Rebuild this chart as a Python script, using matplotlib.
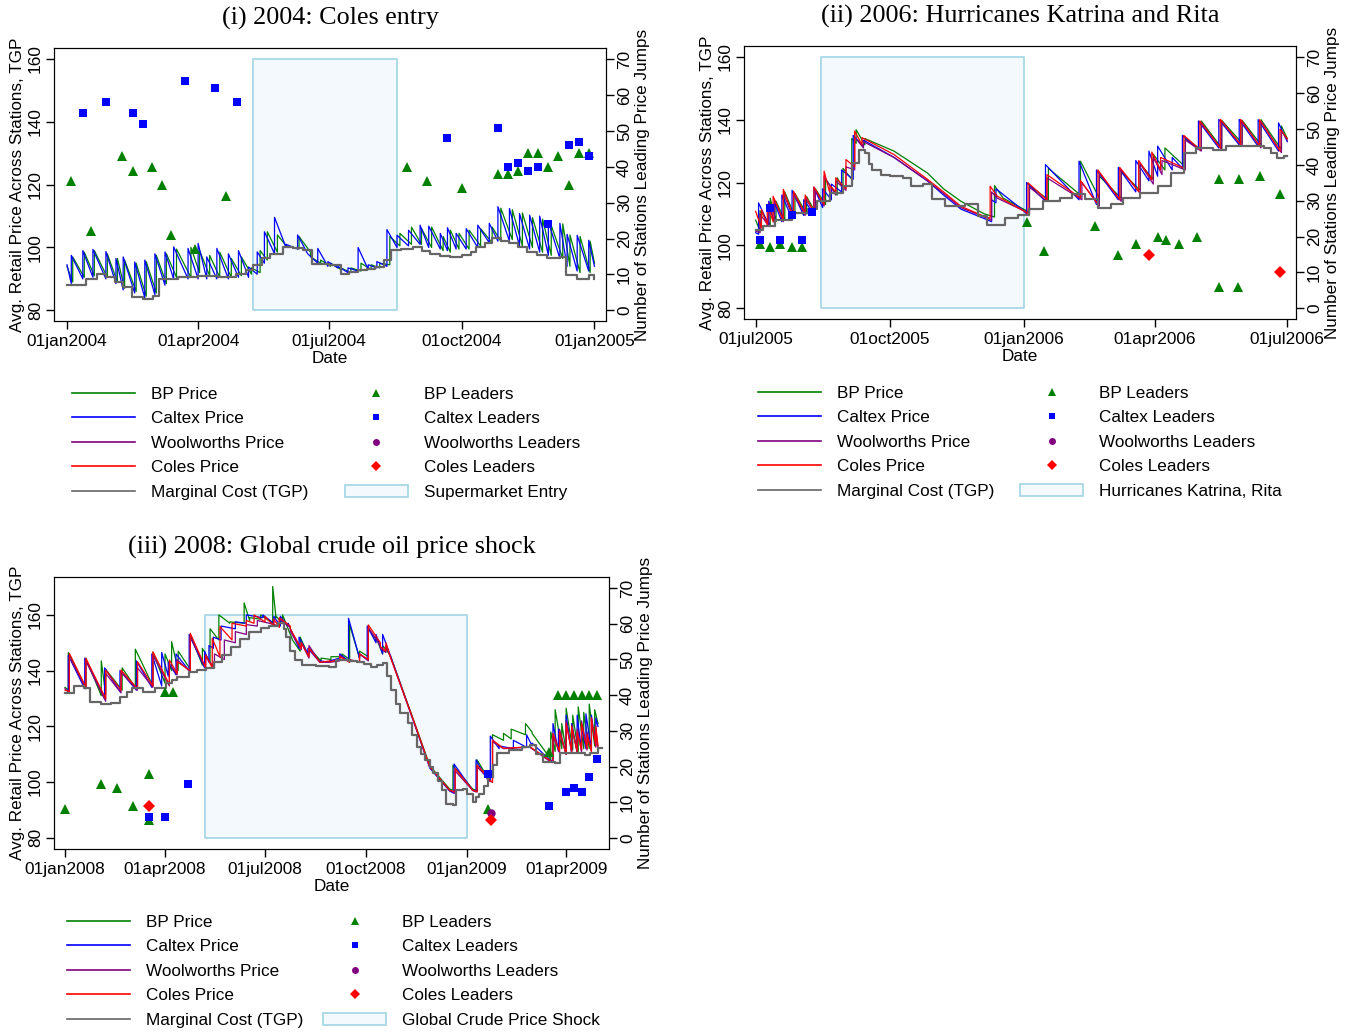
import numpy as np
import matplotlib
matplotlib.use("Agg")
import matplotlib.pyplot as plt
import matplotlib.dates as mdates
from matplotlib.lines import Line2D
from matplotlib.patches import Patch

plt.rcParams['font.family'] = ['Liberation Sans', 'DejaVu Sans']

# ---------------- data: (day offset, peak after jump, value before next jump) ----------------
# panel (i) 2004, base 01jan2004
caltex_04 = [(0, 94.5, 88.5), (3, 97.5, 90.0), (11, 99.0, 90.5), (18, 99.4, 90.0), (27, 98.7, 88.5),
             (34, 96.5, 86.5), (39, 97.0, 85.5), (47, 95.4, 84.0), (54, 96.0, 85.0), (61, 98.0, 88.0),
             (68, 98.6, 90.0), (74, 100.2, 90.0), (84, 99.7, 90.0), (91, 101.3, 90.0), (97, 97.0, 90.0),
             (104, 99.7, 90.0), (112, 98.0, 90.5), (119, 99.0, 90.5), (126, 93.8, 91.5), (132, 98.6, 95.0),
             (137, 105.0, 98.0), (144, 109.6, 100.0), (152, 101.0, 99.5), (160, 104.0, 98.0), (167, 98.0, 95.0),
             (174, 99.7, 94.0), (181, 95.5, 93.5), (188, 94.0, 92.0), (195, 93.5, 92.5), (202, 100.0, 93.0),
             (209, 94.5, 93.5), (215, 95.5, 94.0), (222, 105.7, 100.0), (229, 103.9, 100.5), (237, 105.5, 101.0),
             (245, 107.1, 100.0), (251, 106.8, 99.5), (259, 104.5, 99.0), (264, 106.3, 99.5), (270, 104.5, 99.5),
             (277, 106.0, 100.0), (285, 107.1, 101.5), (293, 107.7, 102.0), (299, 113.0, 102.0), (307, 112.4, 100.5),
             (314, 110.8, 99.5), (321, 110.3, 98.5), (328, 110.0, 97.5), (334, 108.2, 96.5), (342, 107.7, 94.0),
             (347, 104.2, 92.5), (354, 103.9, 92.5), (362, 102.3, 94.0)]
bp_04 = [(0, 94.0, 89.0), (4, 97.0, 90.5), (12, 98.5, 91.0), (19, 99.0, 90.5), (28, 98.0, 89.0),
         (35, 96.5, 87.0), (40, 96.0, 86.0), (48, 95.0, 84.5), (55, 95.5, 85.5), (62, 97.5, 88.5),
         (69, 98.0, 90.5), (76, 99.5, 90.5), (86, 100.0, 92.0), (92, 99.0, 91.0), (99, 97.5, 90.5),
         (106, 98.5, 90.5), (114, 96.5, 91.0), (121, 97.0, 91.5), (128, 93.5, 92.0), (134, 99.0, 96.0),
         (139, 105.0, 98.5), (146, 104.0, 100.0), (153, 100.5, 99.5), (161, 103.5, 98.5), (169, 97.0, 95.0),
         (176, 96.0, 94.0), (183, 95.0, 93.0), (190, 93.5, 92.0), (197, 93.5, 92.5), (204, 95.0, 93.0),
         (211, 94.5, 93.5), (217, 95.0, 94.5), (224, 103.5, 100.5), (231, 104.5, 101.0), (239, 106.5, 101.0),
         (246, 106.0, 100.0), (253, 106.5, 99.0), (261, 103.5, 98.5), (266, 105.5, 99.5), (272, 104.5, 99.5),
         (279, 105.5, 100.5), (287, 106.0, 101.5), (295, 106.5, 102.0), (301, 112.5, 102.5), (309, 112.0, 100.5),
         (316, 111.0, 100.0), (323, 109.5, 98.5), (330, 109.0, 97.5), (336, 107.0, 96.5), (344, 107.5, 94.0),
         (349, 104.0, 92.0), (356, 103.5, 92.0), (363, 102.0, 95.0)]
tgp_04 = [(0, 88), (11, 88), (13, 90), (21, 91.7), (27, 90.6), (33, 89), (39, 87.4), (45, 84.3), (53, 83.7),
          (60, 84.5), (64, 90), (77, 90.6), (91, 90.9), (105, 90.6), (117, 91.5), (124, 92.8), (129, 94.5),
          (135, 96.5), (141, 98), (150, 100.2), (157, 99.8), (164, 99.1), (170, 94.9), (176, 94.6), (182, 94.4),
          (190, 91.7), (196, 92.3), (202, 92.8), (208, 93.3), (214, 93.8), (220, 96), (225, 99.1), (232, 99.6),
          (240, 100.2), (246, 99), (252, 98), (259, 97.3), (266, 97), (274, 97.6), (280, 98.5), (284, 100.2),
          (290, 101.5), (295, 102.9), (301, 102.2), (307, 101.3), (313, 100), (319, 98.6), (326, 97.5),
          (333, 96.5), (342, 97), (346, 91.2), (354, 90.1), (362, 91.2), (366, 90.1)]
bp_lead_04 = [(3, 36), (17, 22), (38, 43), (46, 39), (59, 40), (66, 35), (72, 21), (89, 17), (110, 32),
              (236, 40), (250, 36), (274, 34), (299, 38), (306, 38), (313, 39), (320, 44), (327, 44),
              (334, 40), (341, 43), (348, 35), (355, 44), (362, 44)]
caltex_lead_04 = [(11, 55), (27, 58), (46, 55), (53, 52), (82, 64), (103, 62), (118, 58), (264, 48),
                  (299, 51), (306, 40), (313, 41), (320, 39), (327, 40), (334, 24), (348, 46), (355, 47), (362, 43)]

# panel (ii) 2006, base 01jul2005
coles_06 = [(0, 110.8, 105.5), (4, 111.4, 106.5), (8, 113.0, 107.5), (12, 115.6, 108.0), (19, 117.8, 109.0),
            (26, 117.2, 110.0), (34, 116.0, 110.5), (40, 118.6, 113.0), (47, 123.6, 116.5), (51, 119.0, 117.0),
            (55, 121.5, 118.0), (62, 127.3, 125.0), (68, 136.4, 132.0), (73, 134.3, 128.9), (95, 128.9, 121.0),
            (118, 121.0, 117.0), (129, 117.0, 112.4), (141, 112.4, 109.2), (157, 109.2, 108.6), (161, 118.8, 115.6),
            (166, 115.6, 111.0), (184, 111.0, 110.0), (187, 119.9, 114.5), (200, 122.5, 115.1), (223, 120.6, 113.0),
            (235, 124.0, 114.5), (250, 124.8, 117.2), (263, 127.0, 120.9), (272, 129.7, 124.0), (278, 128.0, 124.6),
            (294, 135.0, 130.5), (305, 139.6, 131.0), (319, 140.1, 132.1), (333, 140.1, 131.6), (346, 140.0, 130.0),
            (360, 137.0, 134.0)]
caltex_06 = [(0, 104.0, 103.5), (2, 113.5, 106.5), (9, 114.0, 107.0), (13, 113.5, 107.5), (18, 116.0, 108.5),
             (25, 117.5, 109.5), (33, 114.5, 110.0), (40, 118.5, 112.0), (46, 118.0, 114.5), (52, 119.5, 117.0),
             (59, 124.0, 121.0), (67, 135.0, 131.5), (74, 133.5, 128.0), (95, 128.0, 120.5), (118, 120.5, 116.0),
             (129, 116.0, 111.5), (141, 111.5, 108.5), (157, 108.5, 107.5), (162, 114.5, 113.5), (165, 118.0, 111.0),
             (184, 111.0, 110.0), (186, 120.0, 114.0), (199, 125.7, 114.5), (222, 126.8, 113.0), (234, 124.0, 114.5),
             (249, 124.8, 117.0), (261, 127.0, 120.5), (270, 130.0, 122.0), (276, 131.6, 124.0), (286, 128.0, 124.5),
             (293, 135.0, 130.5), (304, 139.6, 131.0), (318, 140.1, 132.0), (332, 140.1, 131.5), (345, 140.0, 130.0),
             (359, 139.0, 133.0)]
bp_06 = [(0, 108.0, 104.5), (3, 111.0, 106.5), (10, 115.0, 107.5), (14, 114.0, 108.0), (20, 117.0, 109.0),
         (27, 116.5, 110.0), (35, 115.5, 110.5), (41, 118.0, 113.0), (48, 121.0, 116.0), (56, 121.5, 118.0),
         (60, 124.5, 121.0), (66, 134.0, 132.5), (69, 136.8, 132.0), (75, 134.0, 130.0), (95, 130.0, 123.0),
         (118, 123.0, 118.0), (129, 118.0, 114.0), (141, 114.0, 110.0), (157, 110.0, 109.0), (164, 119.0, 115.0),
         (170, 115.0, 111.5), (184, 111.5, 110.5), (188, 119.0, 114.5), (201, 124.5, 116.0), (223, 126.8, 115.0),
         (236, 122.0, 115.0), (251, 123.5, 117.5), (264, 126.0, 121.0), (273, 129.0, 124.0), (281, 131.0, 125.0),
         (295, 134.0, 130.5), (306, 139.6, 131.0), (320, 139.8, 132.5), (334, 139.8, 132.0), (347, 140.0, 130.5),
         (361, 138.0, 134.0)]
woolies_06 = [(0, 104.5, 104.0), (3, 110.0, 106.0), (9, 113.5, 107.0), (13, 114.5, 107.5), (19, 116.5, 108.5),
              (26, 116.5, 109.5), (34, 115.0, 110.0), (41, 117.5, 112.5), (47, 122.0, 116.0), (55, 120.5, 117.5),
              (62, 125.0, 124.0), (68, 134.5, 131.0), (74, 133.0, 128.0), (95, 128.0, 120.5), (118, 120.5, 116.5),
              (129, 116.5, 112.0), (141, 112.0, 109.0), (157, 109.0, 108.0), (162, 117.0, 115.0), (166, 115.0, 111.0),
              (184, 111.0, 110.0), (188, 118.5, 114.0), (200, 121.5, 114.5), (224, 120.0, 112.5), (236, 123.0, 114.0),
              (251, 124.0, 116.5), (264, 126.0, 119.5), (273, 128.0, 122.5), (279, 127.0, 124.0), (295, 133.5, 130.0),
              (306, 139.0, 130.5), (320, 139.5, 131.5), (334, 139.5, 131.0), (347, 139.5, 129.5), (361, 136.5, 133.5)]
tgp_06 = [(0, 105), (5, 106), (13, 108.2), (25, 110.3), (36, 111.4), (42, 114), (51, 116.7), (60, 118.8),
          (66, 126.3), (71, 130.5), (75, 129.5), (78, 126), (80, 124.1), (86, 122.5), (92, 122), (101, 121.5),
          (107, 118.8), (115, 119.4), (121, 114.6), (130, 112.4), (144, 113), (153, 109.3), (159, 106.6),
          (171, 108.7), (180, 109.8), (188, 111.4), (197, 114), (209, 115.1), (217, 116.2), (226, 114.6),
          (235, 111.9), (244, 113), (252, 115.1), (264, 116.7), (276, 118.8), (285, 123), (294, 129.5),
          (302, 131.1), (314, 130.5), (323, 131.6), (334, 131.6), (349, 131.1), (354, 129.5), (358, 127.9),
          (363, 128.6), (365, 128.6)]
bp_lead_06 = [(3, 18), (10, 17), (17, 18), (25, 17), (32, 17), (186, 24), (198, 16), (233, 23), (249, 15),
              (261, 18), (276, 20), (282, 19), (291, 18), (303, 20), (318, 6), (331, 6), (318, 36), (332, 36),
              (346, 37), (360, 32)]
caltex_lead_06 = [(3, 19), (10, 28), (17, 19), (25, 26), (32, 19), (39, 27)]
coles_lead_06 = [(270, 15), (360, 10)]

# panel (iii) 2008, base 01jan2008
coles_08 = [(0, 133.0, 132.5), (4, 146.2, 134.0), (19, 144.4, 130.0), (37, 140.2, 133.0), (51, 140.2, 133.5),
            (66, 143.2, 134.5), (80, 146.8, 135.0), (95, 143.8, 139.0), (102, 143.2, 140.0), (114, 153.4, 141.0),
            (128, 145.6, 141.0), (134, 151.6, 145.0), (141, 155.8, 151.0), (152, 157.0, 156.0), (165, 158.0, 157.0),
            (172, 160.0, 157.5), (182, 159.5, 156.0), (190, 158.5, 155.5), (195, 159.0, 156.0), (205, 155.0, 148.0),
            (215, 150.0, 145.0), (222, 148.0, 143.0), (232, 143.0, 143.5), (241, 143.2, 144.0), (250, 145.0, 143.0),
            (259, 143.8, 143.0), (268, 146.0, 144.0), (276, 156.4, 150.0), (287, 148.6, 147.0), (292, 150.0, 145.0),
            (296, 145.0, 122.3), (317, 122.3, 105.5), (332, 105.5, 97.1), (350, 97.1, 96.5), (355, 104.9, 97.1),
            (371, 97.1, 96.5), (375, 106.1, 103.5), (381, 104.0, 101.0), (385, 101.0, 100.0), (389, 115.1, 112.1),
            (399, 112.1, 112.7), (423, 112.7, 107.9), (441, 107.9, 107.0), (444, 117.5, 111.0), (450, 118.0, 110.0),
            (456, 121.1, 111.0), (461, 120.0, 111.0), (466, 118.0, 111.5), (470, 121.0, 112.0), (475, 117.0, 111.0),
            (479, 123.0, 113.0), (483, 120.0, 113.0)]
caltex_08 = [(0, 132.0, 132.0), (3, 145.5, 133.5), (18, 144.5, 130.0), (36, 141.0, 132.5), (50, 140.0, 133.0),
             (65, 143.5, 134.0), (79, 146.0, 134.5), (88, 146.5, 138.0), (94, 143.0, 138.5), (101, 146.0, 140.0),
             (113, 153.0, 141.0), (127, 147.0, 143.0), (131, 149.0, 148.0), (135, 152.0, 151.0), (142, 156.0, 155.0),
             (155, 157.5, 157.0), (165, 160.0, 159.0), (180, 160.0, 157.0), (190, 159.5, 156.0), (196, 159.5, 156.0),
             (203, 157.0, 148.0), (213, 152.0, 146.0), (221, 148.0, 143.0), (232, 143.5, 143.0), (241, 143.5, 144.5),
             (250, 146.0, 143.5), (258, 158.8, 144.5), (268, 146.0, 144.0), (275, 156.0, 150.0), (283, 153.0, 146.0),
             (289, 153.0, 145.5), (296, 145.5, 122.0), (317, 122.0, 105.0), (332, 105.0, 96.8), (350, 96.8, 96.0),
             (354, 106.5, 97.0), (371, 97.0, 96.5), (374, 108.0, 103.0), (381, 104.0, 101.0), (385, 101.0, 100.5),
             (387, 116.5, 112.0), (395, 113.0, 112.0), (408, 115.0, 112.5), (420, 117.0, 113.0), (425, 114.0, 108.0),
             (441, 108.0, 107.5), (444, 121.0, 111.0), (449, 119.0, 110.0), (456, 124.0, 110.5), (461, 121.0, 111.0),
             (466, 124.0, 111.0), (470, 120.0, 112.0), (474, 124.5, 111.5), (479, 124.0, 113.0), (483, 123.0, 120.0)]
bp_08 = [(0, 134.0, 133.0), (3, 146.5, 134.0), (19, 144.5, 131.0), (33, 143.5, 131.5), (37, 140.5, 133.0),
         (52, 141.0, 134.0), (64, 147.7, 134.5), (80, 146.5, 135.5), (91, 146.0, 140.0), (97, 150.4, 140.0),
         (103, 147.0, 140.5), (114, 153.0, 142.0), (125, 148.0, 143.0), (132, 155.0, 151.0), (140, 160.0, 157.0),
         (150, 157.5, 157.0), (163, 164.3, 158.0), (168, 159.0, 158.5), (178, 160.0, 157.0), (189, 170.2, 159.0),
         (192, 159.5, 157.0), (198, 160.0, 151.0), (207, 151.0, 147.0), (214, 152.0, 145.0), (222, 148.0, 143.5),
         (233, 144.5, 144.0), (242, 145.0, 145.0), (252, 146.0, 144.0), (259, 156.5, 144.5), (268, 147.0, 145.0),
         (276, 155.0, 150.0), (285, 150.0, 146.0), (289, 149.0, 145.5), (296, 145.5, 122.5), (317, 122.5, 105.8),
         (332, 105.8, 97.5), (350, 97.5, 97.0), (353, 106.0, 97.5), (371, 97.5, 97.0), (375, 108.0, 104.0),
         (381, 103.0, 101.0), (386, 104.0, 103.0), (389, 117.0, 115.0), (399, 117.5, 115.5), (406, 119.0, 117.0),
         (419, 121.0, 118.0), (425, 117.5, 111.0), (437, 111.0, 108.0), (442, 118.0, 111.0), (446, 126.0, 112.0),
         (452, 121.0, 111.0), (456, 126.5, 111.5), (462, 124.0, 111.0), (467, 127.0, 112.0), (472, 125.0, 112.0),
         (477, 128.0, 113.0), (482, 126.0, 121.0)]
woolies_08 = [(0, 133.5, 132.0), (4, 145.0, 133.5), (19, 143.5, 129.0), (37, 139.0, 132.0), (51, 139.5, 133.0),
              (66, 141.0, 134.0), (80, 145.5, 134.5), (95, 142.5, 138.5), (102, 144.0, 139.5), (114, 152.0, 141.0),
              (128, 145.0, 141.0), (136, 146.0, 144.0), (145, 151.0, 150.0), (155, 154.0, 153.0), (165, 156.5, 156.0),
              (175, 158.0, 157.0), (186, 157.0, 156.0), (195, 158.5, 155.5), (205, 154.0, 147.5), (215, 150.0, 144.5),
              (222, 149.0, 143.0), (232, 143.0, 143.0), (241, 143.0, 143.5), (250, 145.5, 143.0), (259, 144.0, 143.0),
              (268, 146.0, 143.5), (276, 155.5, 149.0), (287, 148.0, 146.5), (292, 149.0, 145.0), (296, 145.0, 122.0),
              (317, 122.0, 105.3), (332, 105.3, 97.0), (350, 97.0, 96.0), (355, 104.0, 97.0), (371, 97.0, 96.5),
              (375, 105.5, 103.0), (381, 103.5, 100.5), (385, 100.5, 100.0), (389, 114.5, 112.0), (399, 112.0, 112.5),
              (423, 112.5, 107.5), (441, 107.5, 107.0), (444, 116.5, 110.5), (450, 119.0, 110.0), (456, 122.0, 110.5),
              (461, 120.5, 110.5), (466, 119.0, 111.0), (470, 122.0, 111.5), (475, 118.0, 111.0), (479, 123.0, 112.5),
              (483, 119.0, 112.0)]
tgp_08 = [(0, 131.9), (8, 134.5), (17, 133.7), (23, 128.9), (33, 127.9), (42, 128.5), (50, 130.7), (56, 132.5),
          (61, 133.7), (71, 132.5), (82, 133.7), (92, 135.4), (97, 136.5), (102, 137.8), (113, 139.6), (120, 140.3),
          (128, 140.8), (136, 143.2), (143, 145.5), (151, 148.6), (159, 151.5), (167, 154), (178, 155.2), (186, 156),
          (194, 157), (199, 155), (201, 152.2), (205, 147), (209, 143.8), (216, 142), (228, 141.7), (240, 141.4),
          (247, 143.8), (258, 143.5), (266, 143.2), (272, 142.5), (278, 141.4), (284, 142), (289, 142.6), (293, 138),
          (297, 133), (301, 128), (305, 124.7), (312, 121.1), (316, 117), (320, 112.7), (324, 110), (328, 107.9),
          (332, 105.5), (335, 103.1), (339, 100.5), (343, 97.1), (347, 92.3), (353, 91.7), (356, 97.1), (362, 97.7),
          (366, 95.9), (371, 92.9), (374, 94.5), (377, 95.9), (381, 98.5), (385, 101.9), (389, 106), (393, 110.3),
          (404, 111.5), (416, 112.7), (423, 113.3), (429, 110), (435, 107.3), (446, 106.7), (450, 110.3),
          (462, 110.3), (473, 109.7), (478, 110.5), (485, 112.1), (489, 112.1)]
bp_lead_08 = [(0, 8), (33, 15), (47, 14), (62, 9), (76, 18), (76, 5), (91, 41), (98, 41), (385, 8), (440, 24),
              (449, 40), (456, 40), (463, 40), (470, 40), (477, 40), (484, 40)]
caltex_lead_08 = [(76, 6), (91, 6), (112, 15), (385, 18), (440, 9), (456, 13), (463, 14), (470, 13), (477, 17), (484, 22)]
woolies_lead_08 = [(388, 7)]
coles_lead_08 = [(76, 9), (388, 5)]

# ---------------- figure ----------------
C_BP, C_CX, C_WW, C_CO, C_MC = '#008000', '#0000ff', '#800080', '#ff0000', '#666666'
SHADE_FC, SHADE_EC = '#f4f9fd', '#a8d8e6'
LBL = 12.3
TCK = 12.4

fig = plt.figure(figsize=(13.57, 10.33), dpi=100)


def saw(base, cycles, end):
    xs, ys = [], []
    for i, (d, p, t) in enumerate(cycles):
        nd = cycles[i + 1][0] if i + 1 < len(cycles) else end
        xs += [d, nd]
        ys += [p, t]
    return mdates.datestr2num(base) + np.array(xs), np.array(ys)


def pts(base, pairs):
    d, v = zip(*pairs)
    return mdates.datestr2num(base) + np.array(d), np.array(v)


def panel(rect, title, base, end, series, tgp, leaders, shade, xlim, ticks, ylim, y2lim):
    ax = fig.add_axes(rect)
    s0, s1 = mdates.datestr2num(shade[0]), mdates.datestr2num(shade[1])
    ax.fill_between([s0, s1], 80, 160, facecolor=SHADE_FC, edgecolor=SHADE_EC, lw=1.3, zorder=1)
    for cyc, col in series:
        x, y = saw(base, cyc, end)
        ax.plot(x, y, color=col, lw=0.9, zorder=3)
    x, y = pts(base, tgp)
    ax.plot(x, y, color=C_MC, lw=1.6, drawstyle='steps-post', zorder=4)
    ax.set_xlim(mdates.datestr2num(xlim[0]), mdates.datestr2num(xlim[1]))
    ax.set_ylim(*ylim)
    ax.set_yticks([80, 100, 120, 140, 160])
    ax.set_xticks([mdates.datestr2num(t) for t in ticks])
    ax.xaxis.set_major_formatter(plt.FuncFormatter(lambda v, p: mdates.num2date(v).strftime('%d%b%Y').lower()))
    ax.tick_params(axis='both', labelsize=TCK, length=6, width=1, direction='out')
    ax.tick_params(axis='y', labelrotation=90, pad=2)
    for lab in ax.get_yticklabels():
        lab.set_va('center')
    ax.set_xlabel('Date', fontsize=LBL, labelpad=1)
    ax.set_ylabel('Avg. Retail Price Across Stations, TGP', fontsize=LBL, labelpad=2)
    ax.set_title(title, fontfamily='Liberation Serif', fontsize=18.8, pad=17)

    ax2 = ax.twinx()
    for pairs, mk, col, ms in leaders:
        x, y = pts(base, pairs)
        ax2.plot(x, y, ls='none', marker=mk, color=col, ms=ms, mew=0, zorder=5)
    ax2.set_ylim(*y2lim)
    ax2.set_yticks(range(0, 80, 10))
    ax2.tick_params(axis='y', labelsize=TCK, length=6, width=1, labelrotation=90, pad=2)
    for lab in ax2.get_yticklabels():
        lab.set_va('center')
    ax2.set_ylabel('Number of Stations Leading Price Jumps', fontsize=LBL, labelpad=2)
    return ax


def legends(xl, xm, ytop, shade_label):
    lines = [Line2D([], [], color=c, lw=1.2) for c in (C_BP, C_CX, C_WW, C_CO, C_MC)]
    labels = ['BP Price', 'Caltex Price', 'Woolworths Price', 'Coles Price', 'Marginal Cost (TGP)']
    kw = dict(loc='upper left', frameon=False, fontsize=LBL, handlelength=3.7, handletextpad=0.95,
              labelspacing=0.55, borderpad=0, borderaxespad=0)
    fig.legend(lines, labels, bbox_to_anchor=(xl / 1357, 1 - ytop / 1033), **kw)
    marks = [Line2D([], [], ls='none', marker='^', color=C_BP, ms=6, mew=0),
             Line2D([], [], ls='none', marker='s', color=C_CX, ms=5, mew=0),
             Line2D([], [], ls='none', marker='o', color=C_WW, ms=5, mew=0),
             Line2D([], [], ls='none', marker='D', color=C_CO, ms=5, mew=0),
             Patch(facecolor=SHADE_FC, edgecolor=SHADE_EC, lw=1.3)]
    mlabels = ['BP Leaders', 'Caltex Leaders', 'Woolworths Leaders', 'Coles Leaders', shade_label]
    fig.legend(marks, mlabels, bbox_to_anchor=(xm / 1357, 1 - ytop / 1033), **kw)


def leader_set(bp, cx, ww, co):
    out = []
    if bp: out.append((bp, '^', C_BP, 7))
    if cx: out.append((cx, 's', C_CX, 6))
    if ww: out.append((ww, 'o', C_WW, 6))
    if co: out.append((co, 'D', C_CO, 6))
    return out


panel([54 / 1357, 1 - 321 / 1033, 552 / 1357, 273 / 1033], '(i) 2004: Coles entry', '2004-01-01', 366,
      [(bp_04, C_BP), (caltex_04, C_CX)], tgp_04, leader_set(bp_lead_04, caltex_lead_04, None, None),
      ('2004-05-09', '2004-08-17'), ('2003-12-23', '2005-01-09'),
      ['2004-01-01', '2004-04-01', '2004-07-01', '2004-10-01', '2005-01-01'], (76.6, 163.5), (-3.0, 73.2))

panel([744 / 1357, 1 - 319 / 1033, 552 / 1357, 273 / 1033], '(ii) 2006: Hurricanes Katrina and Rita', '2005-07-01', 365,
      [(bp_06, C_BP), (caltex_06, C_CX), (woolies_06, C_WW), (coles_06, C_CO)], tgp_06,
      leader_set(bp_lead_06, caltex_lead_06, None, coles_lead_06),
      ('2005-08-15', '2006-01-01'), ('2005-06-23', '2006-07-07'),
      ['2005-07-01', '2005-10-01', '2006-01-01', '2006-04-01', '2006-07-01'], (76.5, 163.5), (-3.0, 73.2))

panel([54 / 1357, 1 - 849 / 1033, 555 / 1357, 272 / 1033], '(iii) 2008: Global crude oil price shock', '2008-01-01', 485,
      [(bp_08, C_BP), (caltex_08, C_CX), (woolies_08, C_WW), (coles_08, C_CO)], tgp_08,
      leader_set(bp_lead_08, caltex_lead_08, woolies_lead_08, coles_lead_08),
      ('2008-05-07', '2009-01-01'), ('2007-12-22', '2009-05-10'),
      ['2008-01-01', '2008-04-01', '2008-07-01', '2008-10-01', '2009-01-01', '2009-04-01'], (76.0, 173.6), (-3.1, 73.1))

legends(72, 344.5, 387, 'Supermarket Entry')
legends(758, 1020, 386, 'Hurricanes Katrina, Rita')
legends(67, 323, 915, 'Global Crude Price Shock')

fig.savefig('out.png', dpi=100)
